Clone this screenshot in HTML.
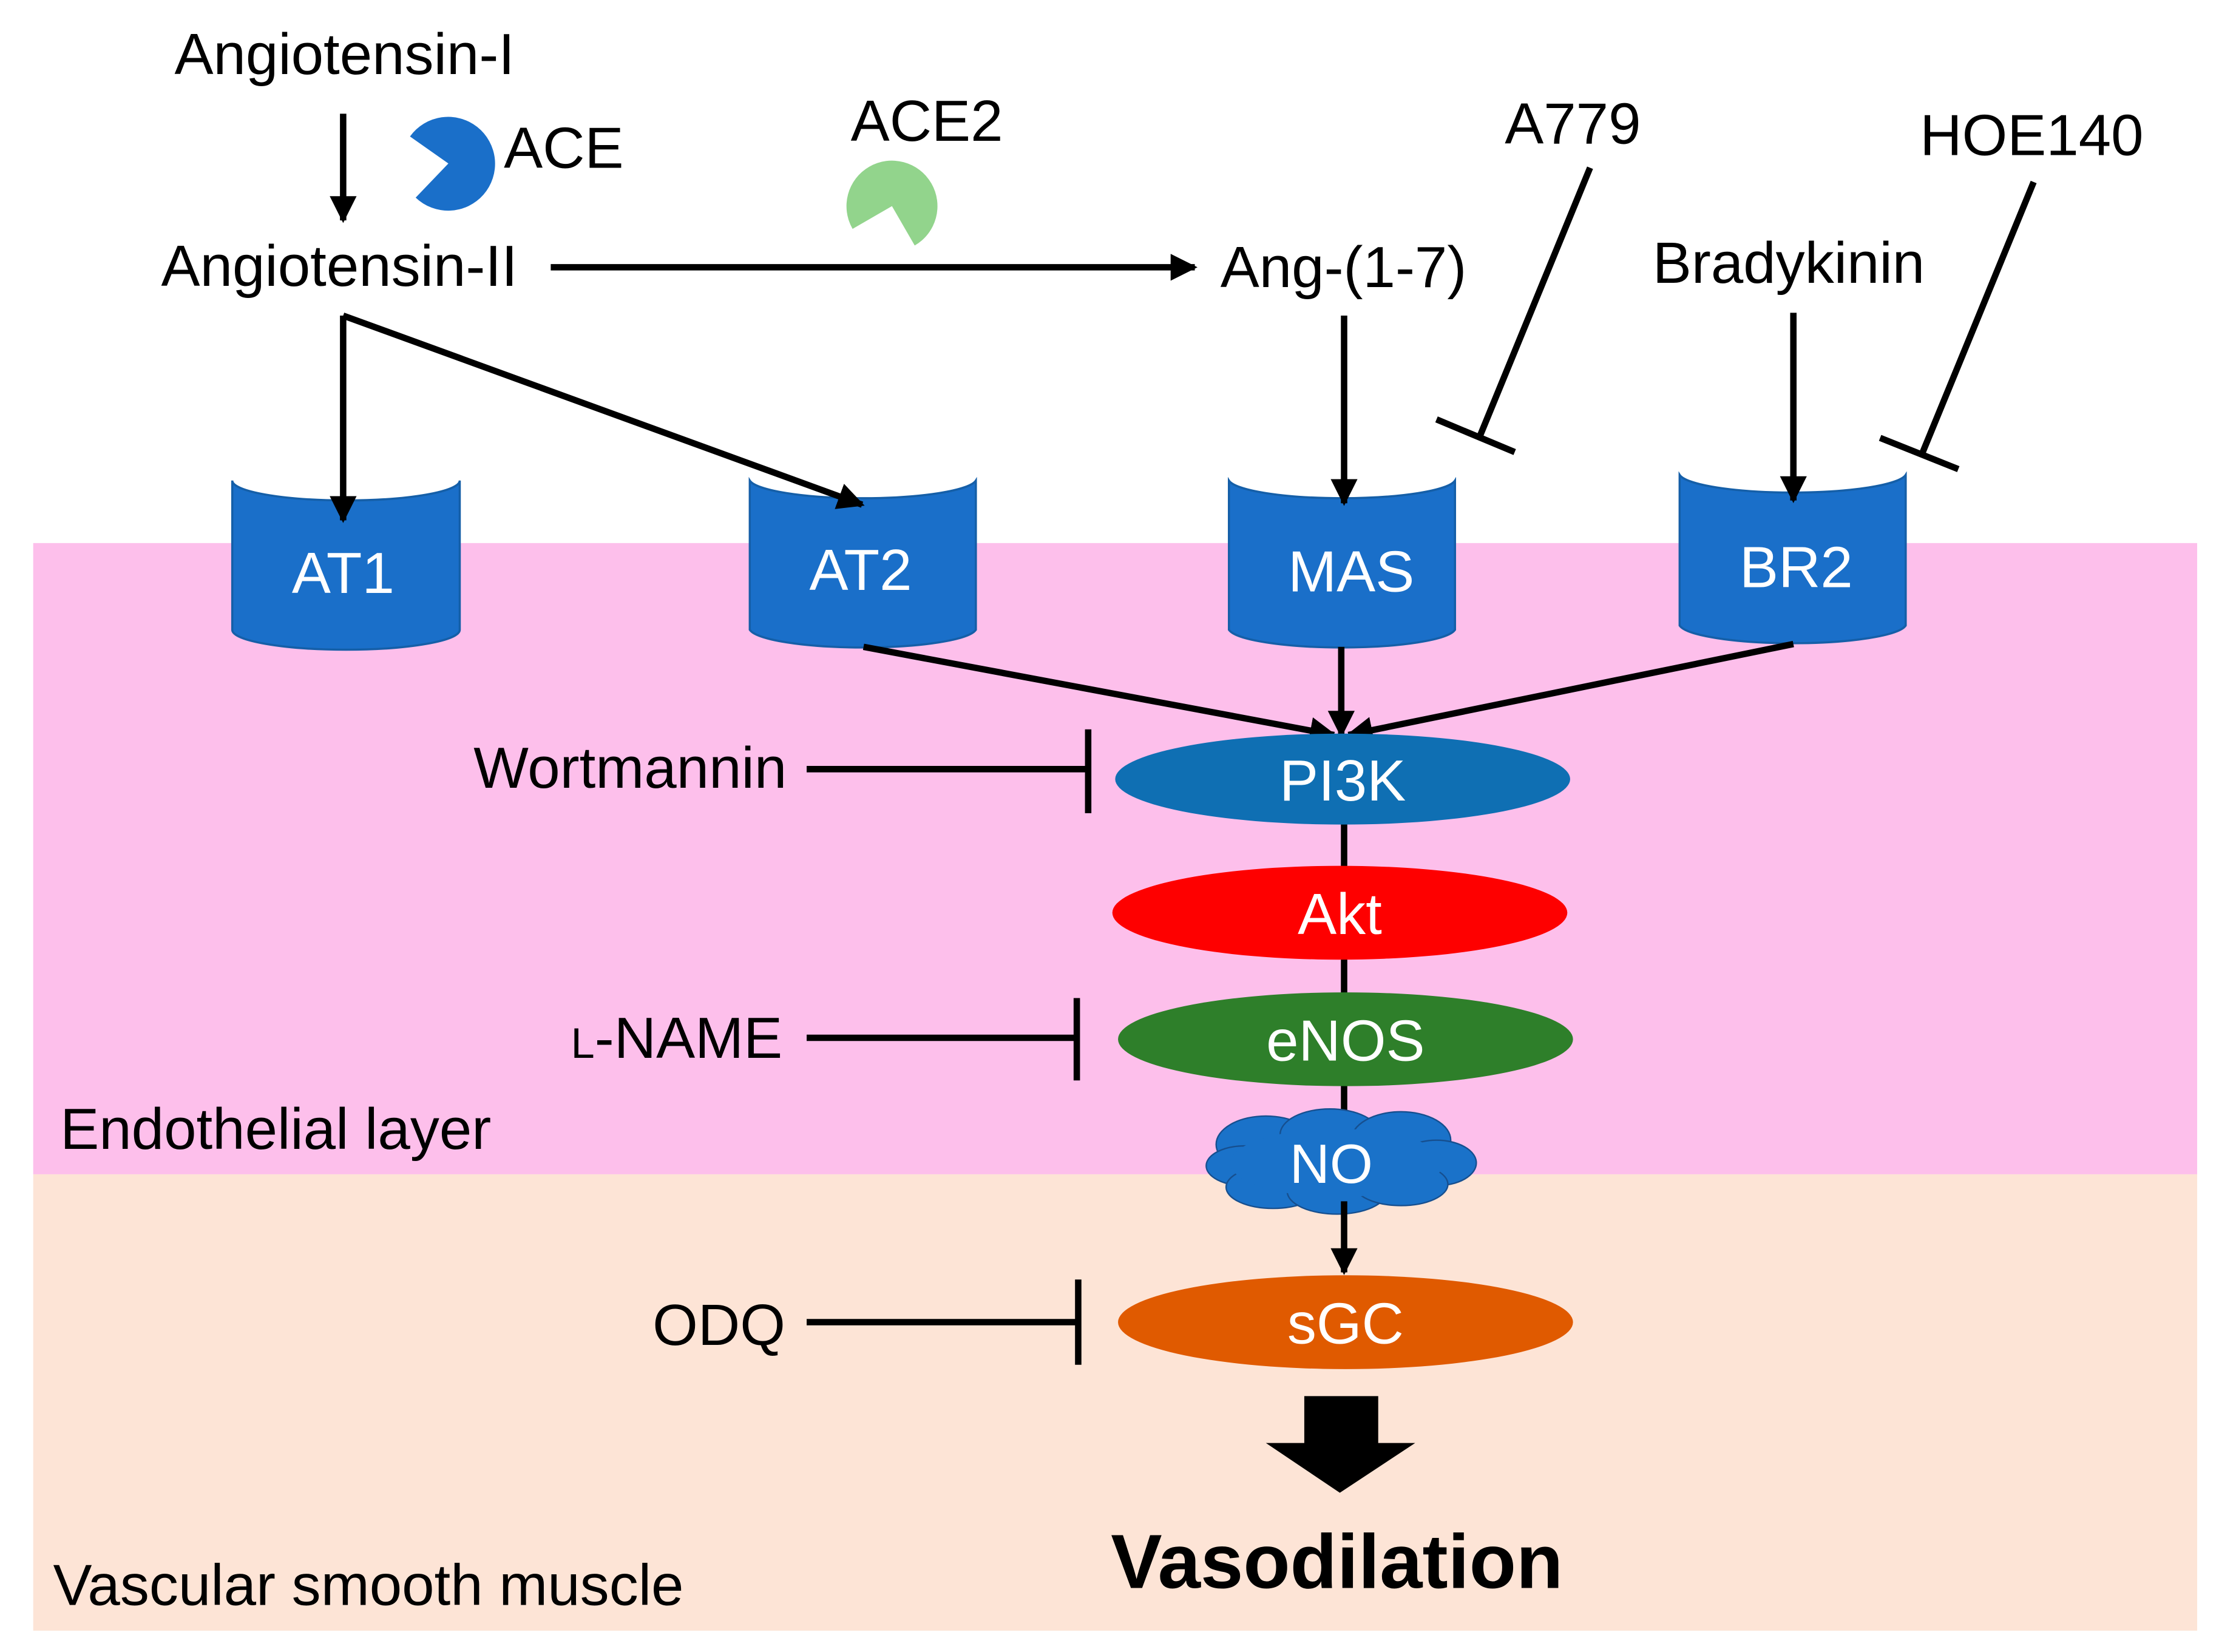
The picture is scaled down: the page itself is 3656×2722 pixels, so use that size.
<!DOCTYPE html>
<html><head><meta charset="utf-8"><style>
html,body{margin:0;padding:0;background:#fff;}
svg{display:block;}
text{font-family:"Liberation Sans",Arial,sans-serif;}
</style></head><body>
<svg width="3656" height="2722" viewBox="0 0 1560 1162" xmlns="http://www.w3.org/2000/svg">
<defs>
<marker id="ah" viewBox="0 0 10 10" refX="9" refY="5" markerWidth="4.2" markerHeight="4.2" markerUnits="strokeWidth" orient="auto">
<path d="M0,0 L10,5 L0,10 z" fill="#000"/></marker>
</defs>
<rect x="0" y="0" width="1560" height="1162" fill="#fff"/>
<rect x="23" y="382" width="1522" height="444" fill="#fdbfeb"/>
<rect x="23" y="826" width="1522" height="321" fill="#fde4d6"/>

<g font-size="41" fill="#000">
<text x="242" y="52" text-anchor="middle">Angiotensin-I</text>
<text x="354" y="118">ACE</text>
<text x="598" y="99">ACE2</text>
<text x="113" y="201">Angiotensin-II</text>
<text x="858" y="202">Ang-(1-7)</text>
<text x="1058" y="101">A779</text>
<text x="1350" y="109">HOE140</text>
<text x="1162" y="199">Bradykinin</text>
<text x="553" y="554" text-anchor="end">Wortmannin</text>
<text x="550" y="744" text-anchor="end"><tspan font-size="30">L</tspan>-NAME</text>
<text x="552" y="946" text-anchor="end">ODQ</text>
<text x="42" y="808">Endothelial layer</text>
<text x="37" y="1129">Vascular smooth muscle</text>
</g>
<text x="940" y="1117" text-anchor="middle" font-size="54" font-weight="bold">Vasodilation</text>

<!-- pacmen -->
<path d="M315,115 L288,96 A33,33 0 1 1 292,139 Z" fill="#1a6fc9"/>
<path d="M627,145 L599.3,161 A32,32 0 1 1 643,172.7 Z" fill="#92d48c"/>

<!-- cylinders -->
<g fill="#1a6fc9" stroke="#155fa8" stroke-width="1.5">
<path d="M163,338 A80,14 0 0 0 323,338 L323,443 A80,14 0 0 1 163,443 Z"/>
<path d="M527,338 A80,14 0 0 0 686,338 L686,443 A80,14 0 0 1 527,443 Z"/>
<path d="M864,338 A80,14 0 0 0 1023,338 L1023,443 A80,14 0 0 1 864,443 Z"/>
<path d="M1181,334 A80,14 0 0 0 1340,334 L1340,440 A80,14 0 0 1 1181,440 Z"/>
</g>
<g fill="#fff" font-size="41" text-anchor="middle">
<text x="241" y="417">AT1</text>
<text x="605" y="415">AT2</text>
<text x="950" y="416">MAS</text>
<text x="1263" y="413">BR2</text>
</g>

<g stroke="#000" stroke-width="4.5" fill="none">
<line x1="241" y1="80" x2="241" y2="155" marker-end="url(#ah)"/>
<line x1="387" y1="188" x2="840" y2="188" marker-end="url(#ah)"/>
<line x1="241" y1="222" x2="241" y2="366" marker-end="url(#ah)"/>
<line x1="241" y1="222" x2="606" y2="355" marker-end="url(#ah)"/>
<line x1="945" y1="222" x2="945" y2="354" marker-end="url(#ah)"/>
<line x1="1261" y1="220" x2="1261" y2="352" marker-end="url(#ah)"/>
<line x1="1118" y1="118" x2="1040" y2="308"/>
<line x1="1010" y1="295" x2="1065" y2="318"/>
<line x1="1430" y1="128" x2="1352" y2="318"/>
<line x1="1322" y1="308" x2="1377" y2="330"/>
<line x1="945" y1="575" x2="945" y2="800"/>
<line x1="567" y1="541" x2="765" y2="541"/>
<line x1="765" y1="513" x2="765" y2="572"/>
<line x1="567" y1="730" x2="757" y2="730"/>
<line x1="757" y1="702" x2="757" y2="760"/>
<line x1="567" y1="930" x2="758" y2="930"/>
<line x1="758" y1="900" x2="758" y2="960"/>
<line x1="607" y1="455" x2="938" y2="517" marker-end="url(#ah)"/>
<line x1="943" y1="455" x2="943" y2="517" marker-end="url(#ah)"/>
<line x1="1261" y1="453" x2="948" y2="517" marker-end="url(#ah)"/>
</g>

<ellipse cx="944" cy="548" rx="160" ry="32" fill="#0f6fb3"/>
<ellipse cx="942" cy="642" rx="160" ry="33" fill="#fe0000"/>
<ellipse cx="946" cy="731" rx="160" ry="33" fill="#2e7f2a"/>
<ellipse cx="946" cy="930" rx="160" ry="33" fill="#e05a00"/>
<g fill="#fff" font-size="41" text-anchor="middle">
<text x="944" y="563">PI3K</text>
<text x="942" y="657">Akt</text>
<text x="946" y="746">eNOS</text>
<text x="946" y="945">sGC</text>
</g>

<!-- cloud -->
<g fill="#1a72c9" stroke="#164f8f" stroke-width="1">
<ellipse cx="890" cy="805" rx="35" ry="20"/>
<ellipse cx="935" cy="798" rx="35" ry="18"/>
<ellipse cx="985" cy="802" rx="35" ry="20"/>
<ellipse cx="1010" cy="818" rx="28" ry="16"/>
<ellipse cx="875" cy="820" rx="27" ry="14"/>
<ellipse cx="895" cy="835" rx="33" ry="15"/>
<ellipse cx="940" cy="838" rx="35" ry="16"/>
<ellipse cx="985" cy="833" rx="33" ry="15"/>
</g>
<ellipse cx="940" cy="818" rx="75" ry="24" fill="#1a72c9"/>
<text x="936" y="832" fill="#fff" font-size="39" text-anchor="middle">NO</text>

<line x1="945" y1="845" x2="945" y2="895" stroke="#000" stroke-width="4.5" marker-end="url(#ah)"/>

<path d="M917,982 L969,982 L969,1015 L995,1015 L942,1050 L890,1015 L917,1015 Z" fill="#000"/>
</svg>
</body></html>
